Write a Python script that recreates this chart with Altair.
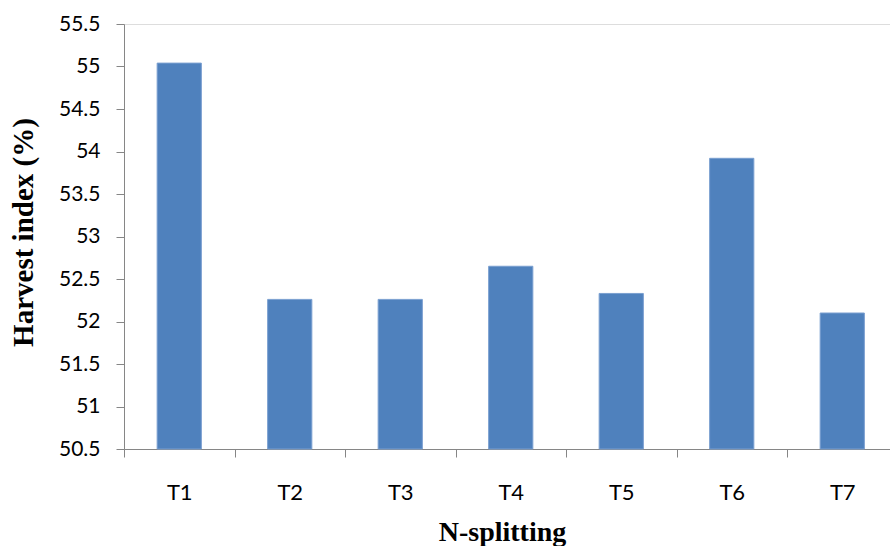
import altair as alt
import pandas as pd

treatments = ["T1", "T2", "T3", "T4", "T5", "T6", "T7"]
harvest_index = [55.04, 52.26, 52.26, 52.65, 52.33, 53.92, 52.10]
y_ticks = [50.5, 51, 51.5, 52, 52.5, 53, 53.5, 54, 54.5, 55, 55.5]
y_base = 50.5

df = pd.DataFrame({"Treatment": treatments, "HI": harvest_index})

axis_gray = "#868686"

chart = alt.Chart(df).mark_bar(
    color="#4F81BD", stroke="#7A9FD0", strokeWidth=1,
    width=alt.RelativeBandSize(0.4),
).encode(
    x=alt.X(
        "Treatment:N",
        sort=treatments,
        scale=alt.Scale(range=[0, 773.5], paddingInner=0, paddingOuter=0),
        axis=alt.Axis(
            title="N-splitting",
            labelAngle=0,
            labelFont="Lato",
            labelFontSize=22,
            labelColor="#000000",
            labelPadding=25,
            tickBand="extent",
            tickSize=8,
            tickColor=axis_gray,
            domainColor=axis_gray,
            titleFont="Liberation Serif",
            titleFontSize=28,
            titleFontWeight="bold",
            titleColor="#000000",
            titleBaseline="alphabetic",
            titleAnchor="start",
            titleAlign="center",
            titleX=378,
            titleY=91,
            grid=False,
        ),
    ),
    y=alt.Y(
        "HI:Q",
        scale=alt.Scale(domain=[50.5, 55.5], zero=False, nice=False),
        axis=alt.Axis(
            title="Harvest index (%)",
            values=y_ticks,
            format="~g",
            labelFont="Lato",
            labelFontSize=21,
            labelColor="#000000",
            labelPadding=16,
            tickSize=8,
            tickColor=axis_gray,
            domainColor=axis_gray,
            titleFont="Liberation Serif",
            titleFontSize=29,
            titleFontWeight="bold",
            titleColor="#000000",
            titleBaseline="alphabetic",
            titleAnchor="start",
            titleAlign="center",
            titleX=-92,
            titleY=208,
            grid=False,
        ),
    ),
    y2=alt.datum(y_base),
).properties(
    width=766,
    height=425,
    autosize=alt.AutoSizeParams(type="none"),
    padding={"left": 124, "top": 24, "right": 0, "bottom": 97},
).configure_view(stroke=None).configure(background="white")

chart.save("out.html", embed_options={"renderer": "svg", "actions": False})
